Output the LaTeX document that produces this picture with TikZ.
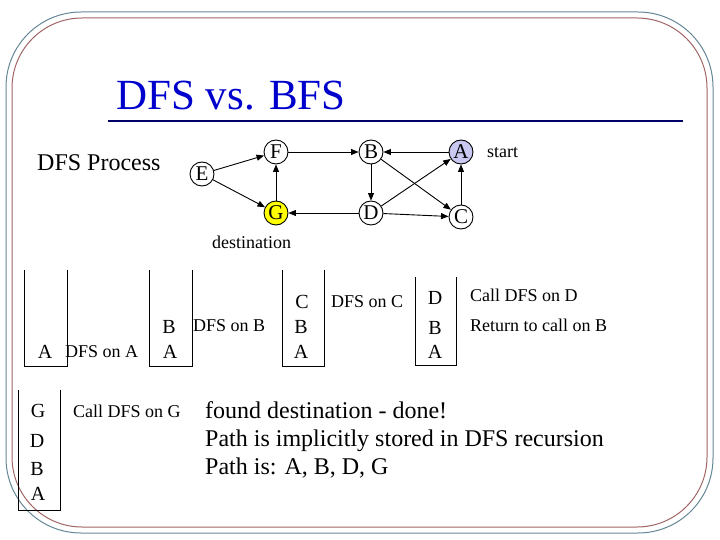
\documentclass[tikz,border=0pt]{standalone}
\usepackage{fontspec}
\setmainfont{Liberation Serif}
\usetikzlibrary{arrows.meta}
\definecolor{titleblue}{RGB}{0,0,204}
\definecolor{rulenavy}{RGB}{0,0,102}
\definecolor{outerb}{RGB}{100,135,150}
\definecolor{innerb}{RGB}{160,100,100}
\definecolor{startfill}{RGB}{200,200,240}
\definecolor{destfill}{RGB}{255,255,0}
\begin{document}
\begin{tikzpicture}[x=1pt,y=-1pt,
  vtx/.style={circle,draw,line width=0.9pt,minimum size=24pt,inner sep=0pt,font=\fontsize{21}{21}\selectfont},
  arr/.style={-{Triangle[length=7.5pt,width=6pt]},line width=0.9pt},
  stk/.style={line width=0.9pt},
  sl/.style={font=\fontsize{20}{20}\selectfont,inner sep=0pt},
  lbl/.style={font=\fontsize{18}{18}\selectfont,inner sep=0pt,anchor=west},
  big/.style={font=\fontsize{24}{28}\selectfont,inner sep=0pt,anchor=base west}]
\useasboundingbox (0,0) rectangle (720,540);
% border
\draw[outerb,line width=1pt,rounded corners=75pt] (6,12) rectangle (713,533);
\draw[innerb,line width=1pt,rounded corners=70pt] (12,18) rectangle (707,527);
% title
\node[anchor=base west,inner sep=0pt,font=\fontsize{43}{43}\selectfont,text=titleblue] (title) at (116,110) {DFS vs. BFS};
\coordinate (rl) at (108,121);
\coordinate (rr) at (683,121);
\draw[rulenavy,line width=1.3pt] (rl) -- (rr);
\node[big] (proc) at (37,171) {DFS Process};
% graph
\node[vtx] (E) at (202,174) {E};
\node[vtx] (F) at (276,152) {F};
\node[vtx] (B) at (371,152) {B};
\node[vtx,fill=startfill] (A) at (461,152) {A};
\node[vtx,fill=destfill] (G) at (276,213) {G};
\node[vtx] (D) at (371,213) {D};
\node[vtx] (C) at (461,217) {C};
\node[lbl] (start) at (487,153) {start};
\node[lbl] (dest) at (212,242) {destination};
\draw[arr] (E) -- (F);
\draw[arr] (E) -- (G);
\draw[arr] (G) -- (F);
\draw[arr] (F) -- (B);
\draw[arr] (A) -- (B);
\draw[arr] (B) -- (D);
\draw[arr] (B) -- (C);
\draw[arr] (D) -- (A);
\draw[arr] (D) -- (G);
\draw[arr] (D) -- (C);
\draw[arr] (C) -- (A);
% stacks
\draw[stk] (24,270) -- (24,366) -- (67,366) -- (67,270);
\node[sl] (s1a) at (45,352) {A};
\node[lbl] (l1) at (65,352) {DFS on A};
\draw[stk] (149,270) -- (149,366) -- (192,366) -- (192,270);
\node[sl] (s2b) at (169,327) {B};
\node[sl] (s2a) at (170,352) {A};
\node[lbl] (l2) at (193,326) {DFS on B};
\draw[stk] (282,270) -- (282,366) -- (324,366) -- (324,270);
\node[sl] (s3c) at (302,302) {C};
\node[sl] (s3b) at (301,327) {B};
\node[sl] (s3a) at (301,352) {A};
\node[lbl] (l3) at (331,302) {DFS on C};
\draw[stk] (415,277) -- (415,365) -- (456,365) -- (456,277);
\node[sl] (s4d) at (435,298) {D};
\node[sl] (s4b) at (435,328) {B};
\node[sl] (s4a) at (435,352) {A};
\node[lbl] (l4a) at (470,295) {Call DFS on D};
\node[lbl] (l4b) at (470,325) {Return to call on B};
\draw[stk] (18,390) -- (18,510) -- (60,510) -- (60,390);
\node[sl] (s5g) at (38,411) {G};
\node[sl] (s5d) at (37,441) {D};
\node[sl] (s5b) at (37,469) {B};
\node[sl] (s5a) at (38,494) {A};
\node[lbl] (l5) at (73,411) {Call DFS on G};
% conclusion
\node[big] (t1) at (205,418) {found destination - done!};
\node[big] (t2) at (205,446) {Path is implicitly stored in DFS recursion};
\node[big] (t3) at (205,474) {Path is: A, B, D, G};
\end{tikzpicture}
\end{document}
